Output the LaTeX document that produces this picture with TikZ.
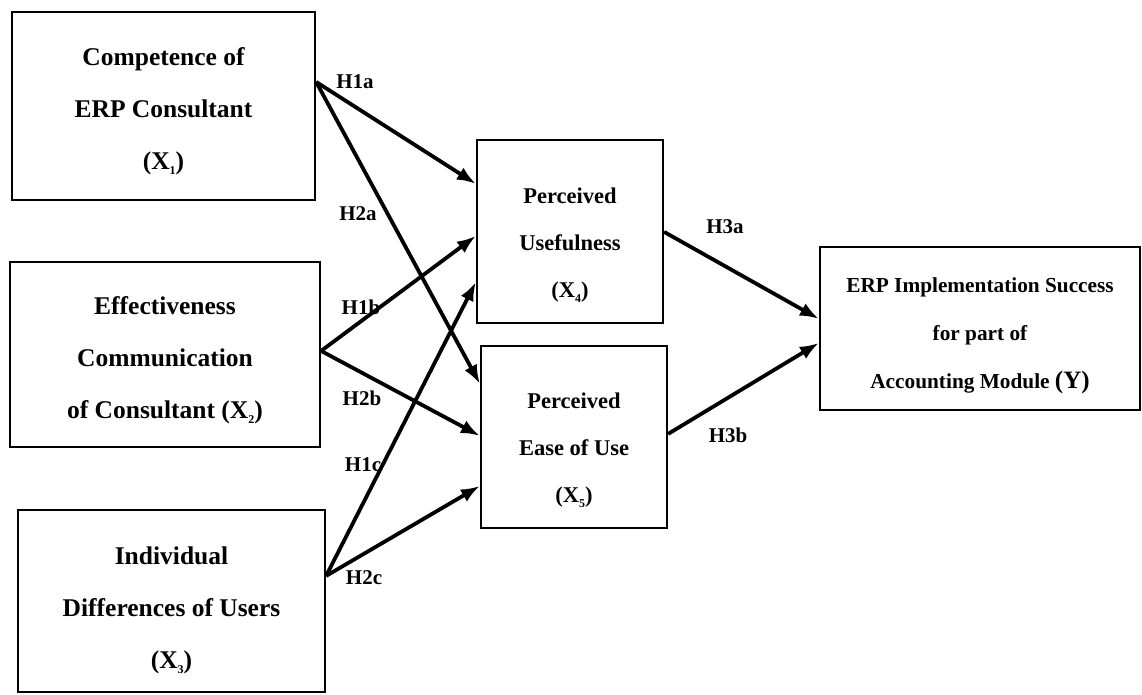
\documentclass[tikz,border=0pt]{standalone}
\usepackage{fontspec}
\setmainfont{Liberation Serif}
\usetikzlibrary{arrows.meta}
\newcommand{\lowsub}[1]{\raisebox{-5pt}{\fontsize{12}{12}\selectfont #1}}
\begin{document}
\begin{tikzpicture}[x=1pt,y=-1pt,
  box/.style={draw,line width=2.2pt,rectangle,inner sep=0pt},
  txt/.style={align=center,inner sep=0pt},
  lbl/.style={font=\bfseries\fontsize{21}{21}\selectfont,inner sep=0pt},
  arr/.style={line width=3.8pt,-{Latex[length=19pt,width=14pt]}}]
\useasboundingbox (0,0) rectangle (1142,694);
\node[box,minimum width=303pt,minimum height=188pt] (x1) at (163.5,106) {};
\node[box,minimum width=310pt,minimum height=185pt] (x2) at (165,354.5) {};
\node[box,minimum width=307pt,minimum height=182pt] (x3) at (171.5,601) {};
\node[box,minimum width=186pt,minimum height=183pt] (x4) at (570,231.5) {};
\node[box,minimum width=186pt,minimum height=182pt] (x5) at (574,437) {};
\node[box,minimum width=320pt,minimum height=163pt] (y) at (980,328.5) {};
\node[txt,font=\bfseries\fontsize{25.5}{52}\selectfont] (x1t) at ([yshift=-5pt]x1.center)
  {Competence of\\ERP Consultant\\(X\lowsub{1})};
\node[txt,font=\bfseries\fontsize{25.5}{52}\selectfont] (x2t) at ([yshift=-6pt]x2.center)
  {Effectiveness\\Communication\\of Consultant (X\lowsub{2})};
\node[txt,font=\bfseries\fontsize{25.5}{52}\selectfont] (x3t) at ([yshift=-9pt]x3.center)
  {Individual\\Differences of Users\\(X\lowsub{3})};
\node[txt,font=\bfseries\fontsize{22.5}{47}\selectfont] (x4t) at ([yshift=-14pt]x4.center)
  {Perceived\\Usefulness\\(X\lowsub{4})};
\node[txt,font=\bfseries\fontsize{22.5}{47}\selectfont] (x5t) at ([yshift=-13pt]x5.center)
  {Perceived\\Ease of Use\\(X\lowsub{5})};
\node[txt,font=\bfseries\fontsize{21.3}{48}\selectfont] (yt) at ([yshift=-7pt]y.center)
  {ERP Implementation Success\\for part of\\Accounting Module {\fontsize{25}{48}\selectfont(Y)}};
% arrows
\draw[arr] ([yshift=-71pt]x1.north east) -- ([yshift=-45pt]x4.north west);
\draw[arr] ([yshift=-71pt]x1.north east) -- ([yshift=-39pt]x5.north west);
\draw[arr] ([yshift=-90pt]x2.north east) -- ([yshift=-97pt]x4.north west);
\draw[arr] ([yshift=-90pt]x2.north east) -- ([yshift=-91pt]x5.north west);
\draw[arr] ([yshift=-67pt]x3.north east) -- ([yshift=-143pt]x4.north west);
\draw[arr] ([yshift=-67pt]x3.north east) -- ([yshift=-141pt]x5.north west);
\draw[arr] ([yshift=-93pt]x4.north east) -- ([yshift=-73pt]y.north west);
\draw[arr] ([yshift=-89pt]x5.north east) -- ([yshift=-97pt]y.north west);
% labels
\node[lbl] (h1a) at (355,82) {H1a};
\node[lbl] (h2a) at (358,214) {H2a};
\node[lbl] (h1b) at (361,307) {H1b};
\node[lbl] (h2b) at (362,398) {H2b};
\node[lbl] (h1c) at (363,465) {H1c};
\node[lbl] (h2c) at (364,578) {H2c};
\node[lbl] (h3a) at (725,227) {H3a};
\node[lbl] (h3b) at (728,435) {H3b};
\end{tikzpicture}
\end{document}
